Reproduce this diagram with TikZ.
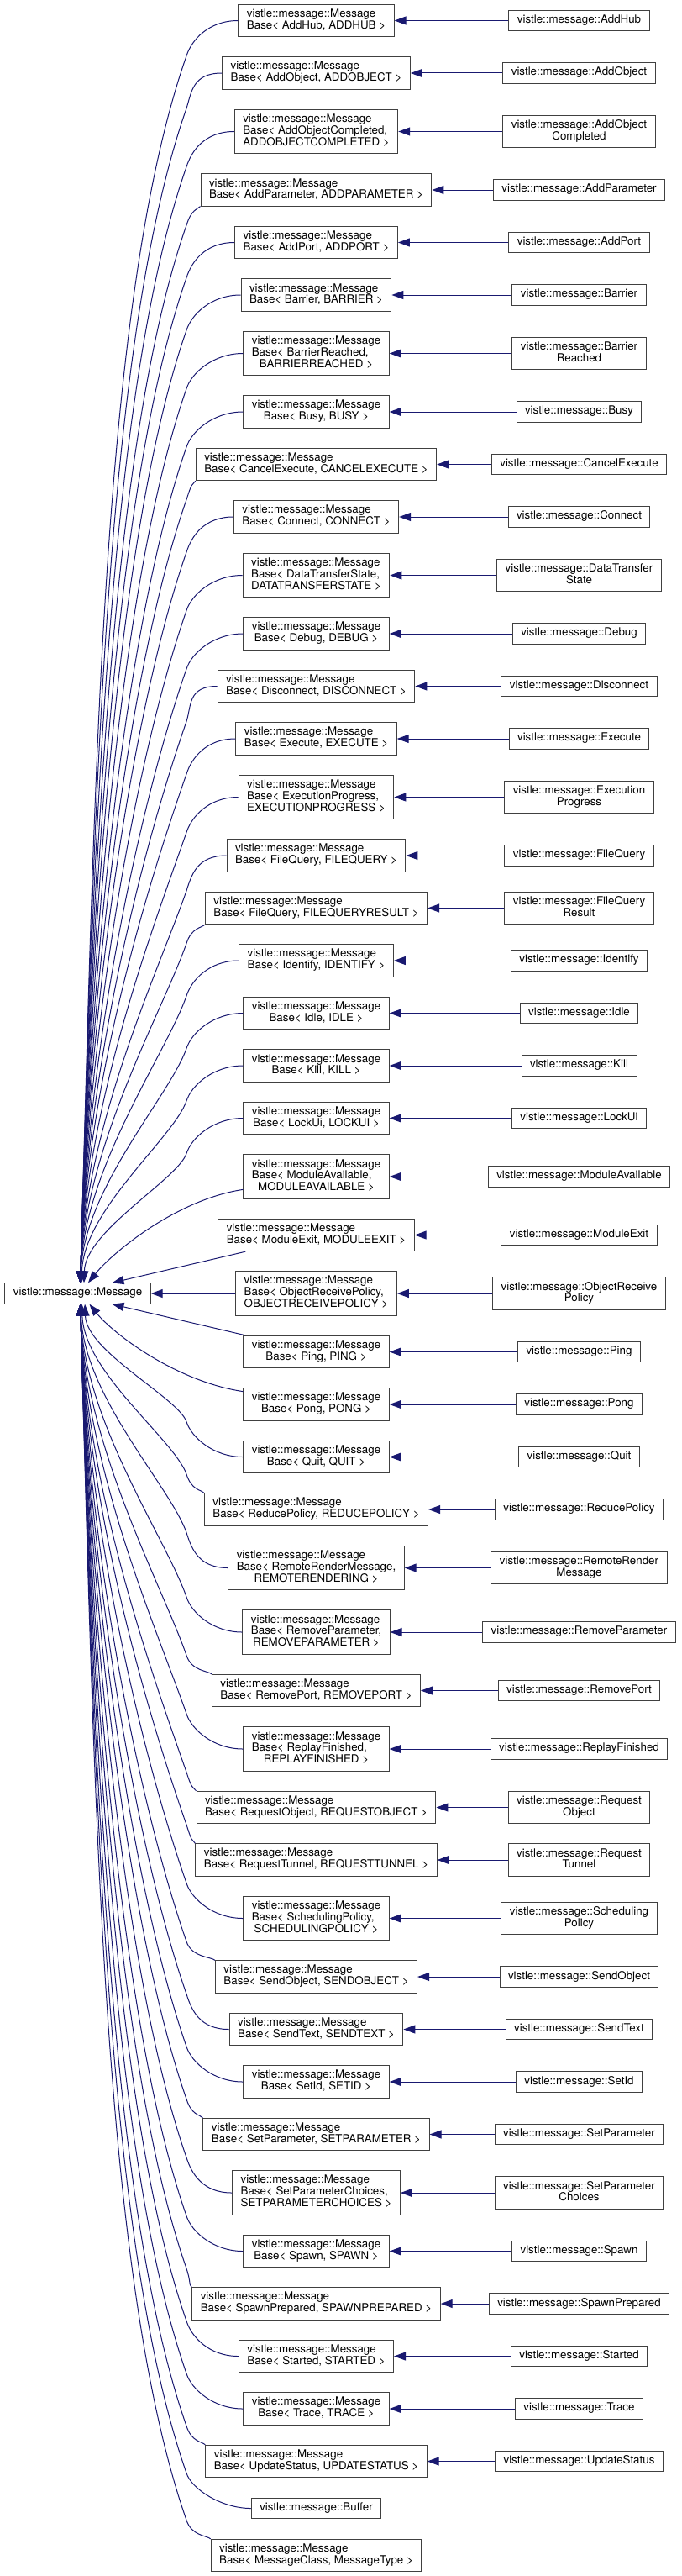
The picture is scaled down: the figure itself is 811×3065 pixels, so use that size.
\documentclass[tikz,border=0pt]{standalone}
\usepackage{fontspec}
\setmainfont{TeX Gyre Heros}
\usetikzlibrary{arrows.meta,calc}

\definecolor{edgeblue}{RGB}{25,25,112}
\definecolor{boxline}{RGB}{64,64,64}

% Etiquettes : premieres lignes a gauche, derniere ligne centree
\newcommand{\oneln}[1]{\begin{tabular}{@{}c@{}}#1\end{tabular}}
\newcommand{\twoln}[2]{\begin{tabular}{@{}l@{}}#1\\\multicolumn{1}{@{}c@{}}{#2}\end{tabular}}
\newcommand{\threeln}[3]{\begin{tabular}{@{}l@{}}#1\\#2\\\multicolumn{1}{@{}c@{}}{#3}\end{tabular}}
\newcommand{\msgbase}[1]{\twoln{vistle::message::Message}{Base< #1 >}}
\newcommand{\msgbaselong}[2]{\threeln{vistle::message::Message}{Base< #1,}{#2 >}}

\tikzset{
  classbox/.style={draw=boxline, fill=white, line width=0.75pt,
    inner xsep=7.5pt, inner ysep=4pt, font=\fontsize{10}{10}\selectfont},
  inherit/.style={draw=edgeblue, line width=0.75pt,
    -{Triangle[length=10.5pt,width=7.5pt]}},
}

\begin{document}
\begin{tikzpicture}[x=0.75pt,y=0.75pt]

  \useasboundingbox (0,0) rectangle (811,-3065);

  % La classe de base (a gauche)
  \node[classbox] (root) at (92.5,-1539) {\oneln{vistle::message::Message}};

  % Colonne du milieu : les classes MessageBase
  \node[classbox] (mAddHub) at (376.5,-24.5) {\msgbase{AddHub, ADDHUB}};
  \node[classbox] (mAddObject) at (376.5,-87) {\msgbase{AddObject, ADDOBJECT}};
  \node[classbox] (mAddObjectCompleted) at (376.5,-156.5) {\msgbaselong{AddObjectCompleted}{ADDOBJECTCOMPLETED}};
  \node[classbox] (mAddParameter) at (376.5,-226) {\msgbase{AddParameter, ADDPARAMETER}};
  \node[classbox] (mAddPort) at (376.5,-288.5) {\msgbase{AddPort, ADDPORT}};
  \node[classbox] (mBarrier) at (376.5,-351) {\msgbase{Barrier, BARRIER}};
  \node[classbox] (mBarrierReached) at (376.5,-420.5) {\msgbaselong{BarrierReached}{BARRIERREACHED}};
  \node[classbox] (mBusy) at (376.5,-490) {\msgbase{Busy, BUSY}};
  \node[classbox] (mCancelExecute) at (376.5,-552.5) {\msgbase{CancelExecute, CANCELEXECUTE}};
  \node[classbox] (mConnect) at (376.5,-615) {\msgbase{Connect, CONNECT}};
  \node[classbox] (mDataTransferState) at (376.5,-684.5) {\msgbaselong{DataTransferState}{DATATRANSFERSTATE}};
  \node[classbox] (mDebug) at (376.5,-754) {\msgbase{Debug, DEBUG}};
  \node[classbox] (mDisconnect) at (376.5,-816.5) {\msgbase{Disconnect, DISCONNECT}};
  \node[classbox] (mExecute) at (376.5,-879) {\msgbase{Execute, EXECUTE}};
  \node[classbox] (mExecutionProgress) at (376.5,-948.5) {\msgbaselong{ExecutionProgress}{EXECUTIONPROGRESS}};
  \node[classbox] (mFileQuery) at (376.5,-1018) {\msgbase{FileQuery, FILEQUERY}};
  \node[classbox] (mFileQueryResult) at (376.5,-1080.5) {\msgbase{FileQuery, FILEQUERYRESULT}};
  \node[classbox] (mIdentify) at (376.5,-1143) {\msgbase{Identify, IDENTIFY}};
  \node[classbox] (mIdle) at (376.5,-1205.5) {\msgbase{Idle, IDLE}};
  \node[classbox] (mKill) at (376.5,-1268) {\msgbase{Kill, KILL}};
  \node[classbox] (mLockUi) at (376.5,-1330.5) {\msgbase{LockUi, LOCKUI}};
  \node[classbox] (mModuleAvailable) at (376.5,-1400) {\msgbaselong{ModuleAvailable}{MODULEAVAILABLE}};
  \node[classbox] (mModuleExit) at (376.5,-1469.5) {\msgbase{ModuleExit, MODULEEXIT}};
  \node[classbox] (mObjectReceivePolicy) at (376.5,-1539) {\msgbaselong{ObjectReceivePolicy}{OBJECTRECEIVEPOLICY}};
  \node[classbox] (mPing) at (376.5,-1608.5) {\msgbase{Ping, PING}};
  \node[classbox] (mPong) at (376.5,-1671) {\msgbase{Pong, PONG}};
  \node[classbox] (mQuit) at (376.5,-1733.5) {\msgbase{Quit, QUIT}};
  \node[classbox] (mReducePolicy) at (376.5,-1796) {\msgbase{ReducePolicy, REDUCEPOLICY}};
  \node[classbox] (mRemoteRenderMessage) at (376.5,-1865.5) {\msgbaselong{RemoteRenderMessage}{REMOTERENDERING}};
  \node[classbox] (mRemoveParameter) at (376.5,-1942) {\msgbaselong{RemoveParameter}{REMOVEPARAMETER}};
  \node[classbox] (mRemovePort) at (376.5,-2011.5) {\msgbase{RemovePort, REMOVEPORT}};
  \node[classbox] (mReplayFinished) at (376.5,-2081) {\msgbaselong{ReplayFinished}{REPLAYFINISHED}};
  \node[classbox] (mRequestObject) at (376.5,-2150.5) {\msgbase{RequestObject, REQUESTOBJECT}};
  \node[classbox] (mRequestTunnel) at (376.5,-2213) {\msgbase{RequestTunnel, REQUESTTUNNEL}};
  \node[classbox] (mSchedulingPolicy) at (376.5,-2282.5) {\msgbaselong{SchedulingPolicy}{SCHEDULINGPOLICY}};
  \node[classbox] (mSendObject) at (376.5,-2352) {\msgbase{SendObject, SENDOBJECT}};
  \node[classbox] (mSendText) at (376.5,-2414.5) {\msgbase{SendText, SENDTEXT}};
  \node[classbox] (mSetId) at (376.5,-2477) {\msgbase{SetId, SETID}};
  \node[classbox] (mSetParameter) at (376.5,-2539.5) {\msgbase{SetParameter, SETPARAMETER}};
  \node[classbox] (mSetParameterChoices) at (376.5,-2609) {\msgbaselong{SetParameterChoices}{SETPARAMETERCHOICES}};
  \node[classbox] (mSpawn) at (376.5,-2678.5) {\msgbase{Spawn, SPAWN}};
  \node[classbox] (mSpawnPrepared) at (376.5,-2741) {\msgbase{SpawnPrepared, SPAWNPREPARED}};
  \node[classbox] (mStarted) at (376.5,-2803.5) {\msgbase{Started, STARTED}};
  \node[classbox] (mTrace) at (376.5,-2866) {\msgbase{Trace, TRACE}};
  \node[classbox] (mUpdateStatus) at (376.5,-2928.5) {\msgbase{UpdateStatus, UPDATESTATUS}};
  \node[classbox] (mBuffer) at (376.5,-2984.5) {\oneln{vistle::message::Buffer}};
  \node[classbox] (mMessageBase) at (376.5,-3040.5) {\msgbase{MessageClass, MessageType}};

  % Colonne de droite : les messages concrets
  \node[classbox] (rAddHub) at (689.5,-24.5) {\oneln{vistle::message::AddHub}};
  \node[classbox] (rAddObject) at (689.5,-87) {\oneln{vistle::message::AddObject}};
  \node[classbox] (rAddObjectCompleted) at (689.5,-156.5) {\twoln{vistle::message::AddObject}{Completed}};
  \node[classbox] (rAddParameter) at (689.5,-226) {\oneln{vistle::message::AddParameter}};
  \node[classbox] (rAddPort) at (689.5,-288.5) {\oneln{vistle::message::AddPort}};
  \node[classbox] (rBarrier) at (689.5,-351) {\oneln{vistle::message::Barrier}};
  \node[classbox] (rBarrierReached) at (689.5,-420.5) {\twoln{vistle::message::Barrier}{Reached}};
  \node[classbox] (rBusy) at (689.5,-490) {\oneln{vistle::message::Busy}};
  \node[classbox] (rCancelExecute) at (689.5,-552.5) {\oneln{vistle::message::CancelExecute}};
  \node[classbox] (rConnect) at (689.5,-615) {\oneln{vistle::message::Connect}};
  \node[classbox] (rDataTransferState) at (689.5,-684.5) {\twoln{vistle::message::DataTransfer}{State}};
  \node[classbox] (rDebug) at (689.5,-754) {\oneln{vistle::message::Debug}};
  \node[classbox] (rDisconnect) at (689.5,-816.5) {\oneln{vistle::message::Disconnect}};
  \node[classbox] (rExecute) at (689.5,-879) {\oneln{vistle::message::Execute}};
  \node[classbox] (rExecutionProgress) at (689.5,-948.5) {\twoln{vistle::message::Execution}{Progress}};
  \node[classbox] (rFileQuery) at (689.5,-1018) {\oneln{vistle::message::FileQuery}};
  \node[classbox] (rFileQueryResult) at (689.5,-1080.5) {\twoln{vistle::message::FileQuery}{Result}};
  \node[classbox] (rIdentify) at (689.5,-1143) {\oneln{vistle::message::Identify}};
  \node[classbox] (rIdle) at (689.5,-1205.5) {\oneln{vistle::message::Idle}};
  \node[classbox] (rKill) at (689.5,-1268) {\oneln{vistle::message::Kill}};
  \node[classbox] (rLockUi) at (689.5,-1330.5) {\oneln{vistle::message::LockUi}};
  \node[classbox] (rModuleAvailable) at (689.5,-1400) {\oneln{vistle::message::ModuleAvailable}};
  \node[classbox] (rModuleExit) at (689.5,-1469.5) {\oneln{vistle::message::ModuleExit}};
  \node[classbox] (rObjectReceivePolicy) at (689.5,-1539) {\twoln{vistle::message::ObjectReceive}{Policy}};
  \node[classbox] (rPing) at (689.5,-1608.5) {\oneln{vistle::message::Ping}};
  \node[classbox] (rPong) at (689.5,-1671) {\oneln{vistle::message::Pong}};
  \node[classbox] (rQuit) at (689.5,-1733.5) {\oneln{vistle::message::Quit}};
  \node[classbox] (rReducePolicy) at (689.5,-1796) {\oneln{vistle::message::ReducePolicy}};
  \node[classbox] (rRemoteRenderMessage) at (689.5,-1865.5) {\twoln{vistle::message::RemoteRender}{Message}};
  \node[classbox] (rRemoveParameter) at (689.5,-1942) {\oneln{vistle::message::RemoveParameter}};
  \node[classbox] (rRemovePort) at (689.5,-2011.5) {\oneln{vistle::message::RemovePort}};
  \node[classbox] (rReplayFinished) at (689.5,-2081) {\oneln{vistle::message::ReplayFinished}};
  \node[classbox] (rRequestObject) at (689.5,-2150.5) {\twoln{vistle::message::Request}{Object}};
  \node[classbox] (rRequestTunnel) at (689.5,-2213) {\twoln{vistle::message::Request}{Tunnel}};
  \node[classbox] (rSchedulingPolicy) at (689.5,-2282.5) {\twoln{vistle::message::Scheduling}{Policy}};
  \node[classbox] (rSendObject) at (689.5,-2352) {\oneln{vistle::message::SendObject}};
  \node[classbox] (rSendText) at (689.5,-2414.5) {\oneln{vistle::message::SendText}};
  \node[classbox] (rSetId) at (689.5,-2477) {\oneln{vistle::message::SetId}};
  \node[classbox] (rSetParameter) at (689.5,-2539.5) {\oneln{vistle::message::SetParameter}};
  \node[classbox] (rSetParameterChoices) at (689.5,-2609) {\twoln{vistle::message::SetParameter}{Choices}};
  \node[classbox] (rSpawn) at (689.5,-2678.5) {\oneln{vistle::message::Spawn}};
  \node[classbox] (rSpawnPrepared) at (689.5,-2741) {\oneln{vistle::message::SpawnPrepared}};
  \node[classbox] (rStarted) at (689.5,-2803.5) {\oneln{vistle::message::Started}};
  \node[classbox] (rTrace) at (689.5,-2866) {\oneln{vistle::message::Trace}};
  \node[classbox] (rUpdateStatus) at (689.5,-2928.5) {\oneln{vistle::message::UpdateStatus}};

  % Fleches horizontales (droite -> milieu)
  \foreach \cls in {AddHub,AddObject,AddObjectCompleted,AddParameter,AddPort,Barrier,
      BarrierReached,Busy,CancelExecute,Connect,DataTransferState,Debug,Disconnect,
      Execute,ExecutionProgress,FileQuery,FileQueryResult,Identify,Idle,Kill,LockUi,
      ModuleAvailable,ModuleExit,ObjectReceivePolicy,Ping,Pong,Quit,ReducePolicy,
      RemoteRenderMessage,RemoveParameter,RemovePort,ReplayFinished,RequestObject,
      RequestTunnel,SchedulingPolicy,SendObject,SendText,SetId,SetParameter,
      SetParameterChoices,Spawn,SpawnPrepared,Started,Trace,UpdateStatus}
    \draw[inherit] (r\cls) -- (m\cls);

  % Fleches proches de la base
  \draw[inherit] (mObjectReceivePolicy) -- (root);
  \draw[inherit] (mModuleExit) -- ($(root.north)+(41,0)$);
  \draw[inherit] (mPing) -- ($(root.south)+(41,0)$);
  \draw[inherit] (mModuleAvailable.-170) .. controls +(-80,-12) and +(28,35)
    .. ($(root.north)+(12.5,0)$);
  \draw[inherit] (mPong.170) .. controls +(-80,12) and +(28,-35)
    .. ($(root.south)+(14,0)$);

  % Eventail au-dessus de la base (1 = depart par le coin)
  \foreach \cls/\yc/\corner in {AddHub/24.5/0,AddObject/87/0,AddObjectCompleted/156.5/0,
      AddParameter/226/1,AddPort/288.5/0,Barrier/351/0,BarrierReached/420.5/0,Busy/490/0,
      CancelExecute/552.5/1,Connect/615/0,DataTransferState/684.5/0,Debug/754/0,
      Disconnect/816.5/0,Execute/879/0,ExecutionProgress/948.5/0,FileQuery/1018/0,
      FileQueryResult/1080.5/1,Identify/1143/0,Idle/1205.5/0,Kill/1268/0,LockUi/1330.5/0}{
    \ifnum\corner=1 \def\anc{south west}\def\cAx{-4}\def\cAy{-4}%
    \else \def\anc{west}\def\cAx{-35}\def\cAy{0}\fi
    \pgfmathsetmacro\fanE{3+45*exp(-(1539-\yc-69.5)/60)}
    \pgfmathsetmacro\fanH{1527-\yc-42}
    \draw[inherit] (m\cls.\anc) .. controls +(\cAx,\cAy) and (228,-\yc-23) .. (222,-\yc-42)
      .. controls (222-0.07*\fanH,-\yc-42-0.2*\fanH)
      and ($(root.north)+(\fanE+0.012*\fanH,0.4*\fanH)$) .. ($(root.north)+(\fanE,0)$);
  }

  % Eventail au-dessous de la base
  \foreach \cls/\yc/\corner in {Quit/1733.5/0,ReducePolicy/1796/1,
      RemoteRenderMessage/1865.5/0,RemoveParameter/1942/0,RemovePort/2011.5/1,
      ReplayFinished/2081/0,RequestObject/2150.5/1,RequestTunnel/2213/1,
      SchedulingPolicy/2282.5/0,SendObject/2352/1,SendText/2414.5/0,SetId/2477/0,
      SetParameter/2539.5/1,SetParameterChoices/2609/0,Spawn/2678.5/0,
      SpawnPrepared/2741/1,Started/2803.5/0,Trace/2866/0,UpdateStatus/2928.5/1,
      Buffer/2984.5/0,MessageBase/3040.5/1}{
    \ifnum\corner=1 \def\anc{north west}\def\cAx{-4}\def\cAy{4}%
    \else \def\anc{west}\def\cAx{-35}\def\cAy{0}\fi
    \pgfmathsetmacro\fanE{3+45*exp(-(\yc-1539-69.5)/60)}
    \pgfmathsetmacro\fanH{\yc-42-1551}
    \draw[inherit] (m\cls.\anc) .. controls +(\cAx,\cAy) and (228,-\yc+23) .. (222,-\yc+42)
      .. controls (222-0.07*\fanH,-\yc+42+0.2*\fanH)
      and ($(root.south)+(\fanE+0.012*\fanH,-0.4*\fanH)$) .. ($(root.south)+(\fanE,0)$);
  }

\end{tikzpicture}
\end{document}
